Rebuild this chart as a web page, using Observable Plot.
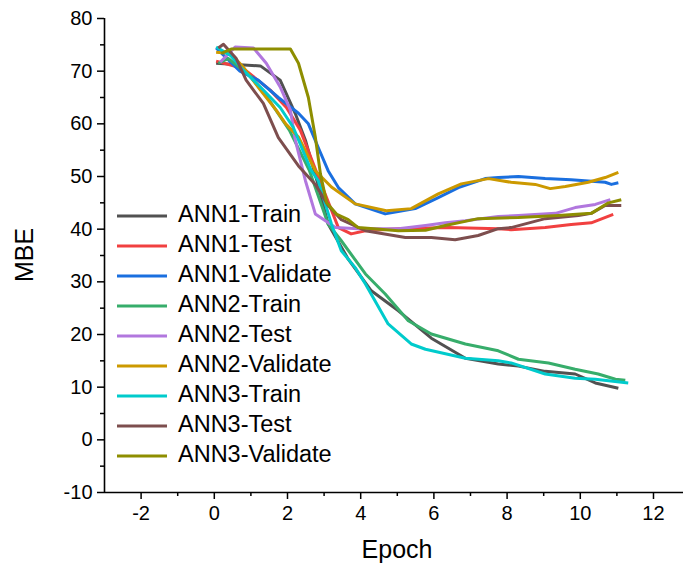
<!DOCTYPE html>
<html><head><meta charset="utf-8">
<script src="https://cdn.jsdelivr.net/npm/d3@7"></script>
<script src="https://cdn.jsdelivr.net/npm/@observablehq/plot@0.6"></script>
<style>
body{margin:0;background:#fff;}
#chart{position:relative;width:683px;height:564px;}
</style>
</head><body><div id="chart"></div>
<script>
const seriesNames = ["ANN1-Train","ANN1-Test","ANN1-Validate","ANN2-Train","ANN2-Test","ANN2-Validate","ANN3-Train","ANN3-Test","ANN3-Validate"];
const seriesColors = ["#515151","#F14040","#1A6FDF","#37AD6B","#B177DE","#CC9900","#00CBCC","#7D4E4E","#8E8E00"];

const ann1TrainEpoch = [0.05,1.26,1.8,2.21,2.49,2.84,3.11,3.66,4.29,5.03,5.93,6.86,7.76,8.31,9.04,9.86,10.41,11.04];
const ann1TrainMBE   = [71.5,71.0,68.3,62.0,56.9,48.3,41.0,34.3,28.3,24.5,19.3,15.5,14.4,14.0,13.0,12.5,10.8,9.8];

const ann1TestEpoch = [0.05,0.79,1.53,1.97,2.35,2.84,3.39,3.74,4.13,5.03,6.39,7.76,8.11,9.04,9.75,10.3,10.9];
const ann1TestMBE   = [71.9,70.5,66.4,63.1,58.8,50.0,40.3,39.1,39.7,40.1,40.3,40.1,39.9,40.3,40.9,41.2,42.8];

const ann1ValidateEpoch = [0.05,0.7,1.2,1.75,2.3,2.57,2.84,3.11,3.39,3.85,4.67,5.49,6.12,6.67,7.4,7.76,8.31,9.04,9.75,10.68,10.85,11.04];
const ann1ValidateMBE   = [74.4,70.0,68.3,65.0,62.0,60.0,55.5,51.1,47.9,44.8,42.9,43.9,46.0,47.9,49.6,49.8,50.0,49.6,49.4,48.9,48.5,48.8];

const ann2TrainEpoch = [0.11,0.38,0.96,1.5,2.05,2.6,3.11,3.47,4.13,4.67,5.3,5.93,6.86,7.76,8.31,9.13,9.86,10.49,10.96,11.23];
const ann2TrainMBE   = [71.5,72.4,69.2,64.5,58.8,51.1,41.0,37.8,31.5,27.7,22.6,20.1,18.2,16.9,15.3,14.6,13.4,12.5,11.5,11.3];

const ann2TestEpoch = [0.16,0.57,1.07,1.42,1.8,2.08,2.21,2.49,2.76,3.31,3.93,5.03,5.77,6.31,6.86,7.76,8.31,9.32,9.86,10.41,10.82];
const ann2TestMBE   = [71.7,74.6,74.4,71.5,67.0,62.6,57.0,49.2,42.9,40.3,40.1,40.1,40.7,41.2,41.6,42.4,42.6,43.0,44.1,44.7,45.6];

const ann2ValidateEpoch = [0.05,0.44,0.79,1.26,1.69,1.95,2.3,2.76,3.2,3.85,4.7,5.38,6.12,6.75,7.49,8.11,8.77,9.18,9.59,10.22,10.68,11.04];
const ann2ValidateMBE   = [73.6,73.4,70.8,66.4,62.6,60.0,57.5,51.1,48.0,44.8,43.5,43.9,46.7,48.6,49.6,48.9,48.5,47.7,48.1,48.9,49.8,50.8];

const ann3TrainEpoch = [0.05,0.44,0.79,1.26,1.8,2.16,2.65,2.84,3.2,3.47,3.85,4.13,4.75,5.38,5.77,6.86,7.76,8.11,9.04,9.86,10.41,11.31];
const ann3TrainMBE   = [74.6,73.0,70.2,67.0,63.1,59.3,51.1,49.2,41.0,35.9,32.7,29.6,22.0,18.2,17.2,15.5,15.0,14.6,12.5,11.7,11.5,10.8];

const ann3TestEpoch = [0.11,0.25,0.6,0.87,1.07,1.34,1.75,2.3,2.76,3.11,3.47,4.13,5.22,5.93,6.58,7.21,7.76,8.11,9.04,9.95,10.3,10.68,11.12];
const ann3TestMBE   = [74.4,75.1,72.4,68.3,66.4,63.9,57.4,52.0,48.5,44.5,41.8,39.7,38.4,38.4,38.0,38.8,40.1,40.3,42.0,42.6,43.0,44.5,44.5];

const ann3ValidateEpoch = [0.19,0.46,2.08,2.3,2.57,2.76,2.9,3.07,3.35,3.66,3.93,5.03,5.77,6.31,7.21,8.31,9.4,10.3,10.77,11.12];
const ann3ValidateMBE   = [73.4,74.2,74.2,71.5,65.0,57.5,50.5,45.0,42.8,41.8,40.3,39.7,39.8,40.7,42.0,42.2,42.6,43.0,45.0,45.6];

const xTicks = [-2,0,2,4,6,8,10,12];
const xMinorTicks = [-1,1,3,5,7,9,11];
const yTicks = [-10,0,10,20,30,40,50,60,70,80];
const yMinorTicks = [-5,5,15,25,35,45,55,65,75];

const epochArrays = [ann1TrainEpoch,ann1TestEpoch,ann1ValidateEpoch,ann2TrainEpoch,ann2TestEpoch,ann2ValidateEpoch,ann3TrainEpoch,ann3TestEpoch,ann3ValidateEpoch];
const mbeArrays = [ann1TrainMBE,ann1TestMBE,ann1ValidateMBE,ann2TrainMBE,ann2TestMBE,ann2ValidateMBE,ann3TrainMBE,ann3TestMBE,ann3ValidateMBE];

const rows = seriesNames.flatMap((name, i) => epochArrays[i].map((e, j) => ({series: name, epoch: e, mbe: mbeArrays[i][j]})));

const W = 683, H = 564;
const fmt = d => String(d);
const chart = Plot.plot({
  width: W, height: H,
  marginLeft: 104, marginRight: 0, marginTop: 18, marginBottom: 72,
  style: {fontFamily: "'Liberation Sans', Arial, sans-serif", fontSize: "20px", color: "#000", background: "#fff"},
  x: {domain: [-3, 12.82], label: null},
  y: {domain: [-10, 80], label: null},
  color: {domain: seriesNames, range: seriesColors},
  marks: [
    Plot.axisX(xMinorTicks, {tickSize: 4, strokeWidth: 1.5, tickFormat: () => "", label: null}),
    Plot.axisY(yMinorTicks, {tickSize: 4, strokeWidth: 1.5, tickFormat: () => "", label: null}),
    Plot.tickX(xTicks, {x: d => d, y: -10, dy: 0, stroke: "#000"}) && Plot.axisX(xTicks, {tickSize: 7, strokeWidth: 1.5, text: null, label: null}),
    Plot.axisY(yTicks, {tickSize: 7, strokeWidth: 1.5, text: null, label: null}),
    Plot.text(xTicks, {x: d => d, y: -10, text: fmt, dy: 21, fontSize: 20, lineAnchor: "middle", fill: "#000"}),
    Plot.text(yTicks, {x: -3, y: d => d, text: fmt, dx: -12, fontSize: 20, textAnchor: "end", fill: "#000"}),
    Plot.ruleX([-3], {stroke: "#000", strokeWidth: 1.6}),
    Plot.ruleY([-10], {stroke: "#000", strokeWidth: 1.6}),
    Plot.line(rows, {x: "epoch", y: "mbe", z: "series", stroke: "series", strokeWidth: 3, strokeLinejoin: "round", strokeLinecap: "butt"})
  ]
});
document.getElementById("chart").appendChild(chart);

const svg = d3.select(chart);

svg.append("text").attr("x", 397).attr("y", 551).attr("text-anchor", "middle").attr("dominant-baseline", "middle")
  .attr("font-size", 25).attr("fill", "#000").text("Epoch");
svg.append("text").attr("transform", "translate(26,255) rotate(-90)").attr("text-anchor", "middle").attr("dominant-baseline", "middle")
  .attr("font-size", 25).attr("fill", "#000").text("MBE");

const legend = svg.append("g").attr("text-anchor", "start");
seriesNames.forEach((name, i) => {
  const yy = 216 + 30 * i;
  legend.append("line").attr("x1", 117).attr("x2", 167).attr("y1", yy).attr("y2", yy)
    .attr("stroke", seriesColors[i]).attr("stroke-width", 3);
  legend.append("text").attr("x", 178).attr("y", yy).attr("dominant-baseline", "middle").attr("text-anchor", "start")
    .attr("font-size", 23.5).attr("fill", "#000").text(name);
});
</script>
</body></html>
